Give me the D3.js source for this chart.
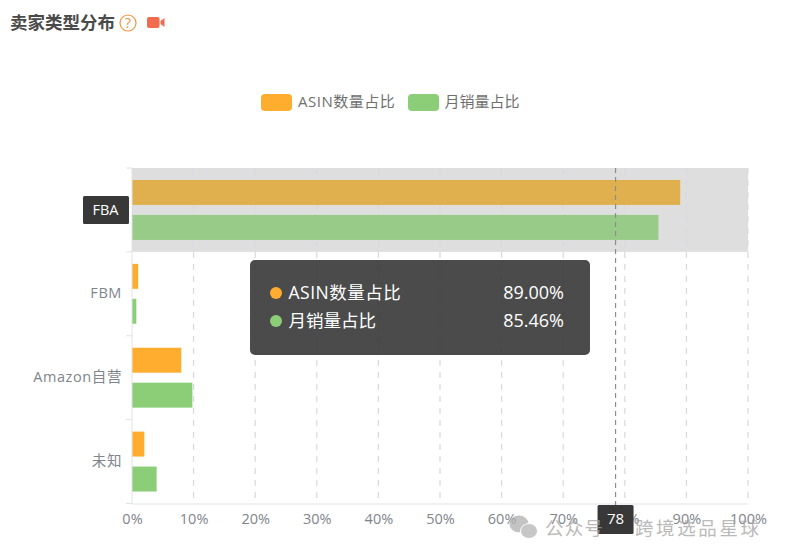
<!DOCTYPE html>
<html>
<head>
<meta charset="utf-8">
<script src="https://cdn.jsdelivr.net/npm/d3@7"></script>
<style>
  html, body { margin: 0; padding: 0; background: #fff; }
  svg { display: block; }
  text { font-family: "Open Sans", "Noto Sans CJK SC", sans-serif; }
</style>
</head>
<body>
<svg id="chart" width="786" height="558"></svg>
<script>
var categories = ["FBA", "FBM", "Amazon自营", "未知"];
var seriesNames = ["ASIN数量占比", "月销量占比"];
var seriesColors = ["#ffad2e", "#8ccd78"];
var highlightColors = ["#e0b04f", "#97cb87"];
var asinShare = [89, 1, 8, 2];
var salesShare = [85.46, 0.7, 9.8, 4];
var xTicks = [0, 10, 20, 30, 40, 50, 60, 70, 80, 90, 100];
var tooltipValues = ["89.00%", "85.46%"];
var highlighted = "FBA";
var pointerValue = 78.5;
var pointerLabel = "78";

var svg = d3.select("#chart");
var axisColor = "#dfe2e8";
var labelColor = "#7f858c";

var x = d3.scaleLinear().domain([0, 100]).range([132, 748]);
var y = d3.scaleBand().domain(categories).range([168, 503.5]);
var yInner = d3.scaleBand().domain(seriesNames).range([0, y.bandwidth()])
    .paddingInner(10 / 35).paddingOuter(12 / 35);

// title
svg.append("text")
    .attr("x", 10).attr("y", 29)
    .attr("font-size", 17.5).attr("font-weight", "bold").attr("fill", "#4a4a4a")
    .text("卖家类型分布");
svg.append("circle")
    .attr("cx", 128).attr("cy", 23).attr("r", 8)
    .attr("fill", "none").attr("stroke", "#f5923e").attr("stroke-width", 1.2);
svg.append("text")
    .attr("x", 128).attr("y", 28).attr("text-anchor", "middle")
    .attr("font-size", 14).attr("fill", "#f5923e")
    .text("?");

// video icon
svg.append("rect")
    .attr("x", 147).attr("y", 17).attr("width", 12.5).attr("height", 11).attr("rx", 2)
    .attr("fill", "#f26b4e");
svg.append("path")
    .attr("d", "M164.5 18V27L160.5 24V21Z")
    .attr("fill", "#f26b4e");

// legend
var legendX = [261, 408];
var legend = svg.selectAll("g.legend").data(seriesNames).enter().append("g")
    .attr("class", "legend")
    .attr("transform", function(d, i) { return "translate(" + legendX[i] + ",94)"; });
legend.append("rect")
    .attr("width", 31).attr("height", 17).attr("rx", 4)
    .attr("fill", function(d, i) { return seriesColors[i]; });
legend.append("text")
    .attr("x", function(d, i) { return i ? 36.5 : 37; }).attr("y", 13)
    .attr("font-size", 15).attr("fill", "#6f6f6f")
    .attr("letter-spacing", function(d, i) { return i ? 0 : 0.5; })
    .text(function(d) { return d; });

// shadow behind the hovered category
svg.append("rect")
    .attr("x", x(0)).attr("y", y(highlighted))
    .attr("width", x(100) - x(0)).attr("height", y.bandwidth())
    .attr("fill", "#dedede");

// grid
svg.selectAll("line.grid").data(xTicks.slice(1)).enter().append("line")
    .attr("class", "grid")
    .attr("x1", function(d) { return x(d); }).attr("x2", function(d) { return x(d); })
    .attr("y1", 168).attr("y2", 503.5)
    .attr("stroke", "#d6d9df").attr("stroke-width", 1.2).attr("stroke-dasharray", "6 6");

// bars
var rows = categories.map(function(c, i) {
  return [
    {cat: c, name: seriesNames[0], value: asinShare[i], idx: 0},
    {cat: c, name: seriesNames[1], value: salesShare[i], idx: 1}
  ];
});
svg.selectAll("g.row").data(rows).enter().append("g")
    .attr("class", "row")
    .selectAll("rect").data(function(d) { return d; }).enter().append("rect")
    .attr("x", x(0))
    .attr("y", function(d) { return y(d.cat) + yInner(d.name); })
    .attr("width", function(d) { return x(d.value) - x(0); })
    .attr("height", yInner.bandwidth())
    .attr("fill", function(d) {
      return d.cat == highlighted ? highlightColors[d.idx] : seriesColors[d.idx];
    });

// axes
var xAxis = svg.append("g")
    .attr("transform", "translate(0,503.5)")
    .call(d3.axisBottom(x).tickValues(xTicks).tickSize(6)
        .tickFormat(function(d) { return d + "%"; }));
xAxis.selectAll("line").remove();
xAxis.select(".domain").attr("stroke", axisColor).attr("d", "M132,0.5H748");
xAxis.selectAll("text")
    .attr("y", 10).attr("dy", "0.71em")
    .attr("font-size", 14.5).attr("fill", labelColor);

var yAxis = svg.append("g")
    .attr("transform", "translate(132,0)")
    .call(d3.axisLeft(y).tickSize(0).tickPadding(10));
yAxis.select(".domain").attr("stroke", axisColor).attr("d", "M0,168V503.5");
yAxis.selectAll("text")
    .attr("font-size", 14.5).attr("fill", labelColor).attr("letter-spacing", 0.6);
yAxis.selectAll("line.boundary")
    .data(categories.map(function(c) { return y(c); }).concat([503.5]))
    .enter().append("line")
    .attr("class", "boundary")
    .attr("x1", -6).attr("x2", 0)
    .attr("y1", function(d) { return d; }).attr("y2", function(d) { return d; })
    .attr("stroke", axisColor);

// vertical pointer
svg.append("line")
    .attr("x1", x(pointerValue)).attr("x2", x(pointerValue))
    .attr("y1", 168).attr("y2", 505)
    .attr("stroke", "#8c8c8c").attr("stroke-width", 1.2).attr("stroke-dasharray", "5 4");

// pointer labels
svg.append("rect")
    .attr("x", 83).attr("y", y(highlighted) + y.bandwidth() / 2 - 14)
    .attr("width", 46).attr("height", 28).attr("rx", 1.5)
    .attr("fill", "#383838");
svg.append("text")
    .attr("x", 105.5).attr("y", y(highlighted) + y.bandwidth() / 2 + 5)
    .attr("text-anchor", "middle").attr("font-size", 14.5).attr("fill", "#fff")
    .text(highlighted);
svg.append("rect")
    .attr("x", x(pointerValue) - 18).attr("y", 505)
    .attr("width", 36).attr("height", 29).attr("rx", 1.5)
    .attr("fill", "#383838");
svg.append("text")
    .attr("x", x(pointerValue)).attr("y", 524)
    .attr("text-anchor", "middle").attr("font-size", 15).attr("fill", "#fff")
    .text(pointerLabel);

// tooltip
var tip = svg.append("g").attr("transform", "translate(250,260)");
tip.append("rect")
    .attr("width", 340).attr("height", 95).attr("rx", 5)
    .attr("fill", "#323232").attr("fill-opacity", 0.88);
var tipRows = tip.selectAll("g.tiprow").data(seriesNames).enter().append("g")
    .attr("class", "tiprow")
    .attr("transform", function(d, i) { return "translate(0," + (33 + i * 28) + ")"; });
tipRows.append("circle")
    .attr("cx", 26).attr("r", 6)
    .attr("fill", function(d, i) { return seriesColors[i]; });
tipRows.append("text")
    .attr("x", 38.5).attr("y", 6)
    .attr("font-size", 17.5).attr("fill", "#fff")
    .attr("letter-spacing", function(d, i) { return i ? 0 : 0.5; })
    .text(function(d) { return d; });
tipRows.append("text")
    .attr("x", 314).attr("y", 6).attr("text-anchor", "end")
    .attr("font-size", 18).attr("fill", "#fff")
    .text(function(d, i) { return tooltipValues[i]; });

// watermark
var mark = svg.append("g").attr("opacity", 0.75);
mark.append("ellipse").attr("cx", 519).attr("cy", 524).attr("rx", 9.5).attr("ry", 8.5).attr("fill", "#b0b0b0");
mark.append("ellipse").attr("cx", 529).attr("cy", 531).attr("rx", 8.5).attr("ry", 7.5)
    .attr("fill", "#b5b5b5").attr("stroke", "#fff").attr("stroke-width", 1);
mark.append("text")
    .attr("x", 545).attr("y", 535)
    .attr("font-size", 18.5).attr("letter-spacing", "1.2").attr("fill", "#a3a3a3")
    .text("公众号");
mark.append("text")
    .attr("x", 635).attr("y", 535)
    .attr("font-size", 18.5).attr("letter-spacing", "2.6").attr("fill", "#a3a3a3")
    .text("跨境选品星球");
</script>
</body>
</html>
